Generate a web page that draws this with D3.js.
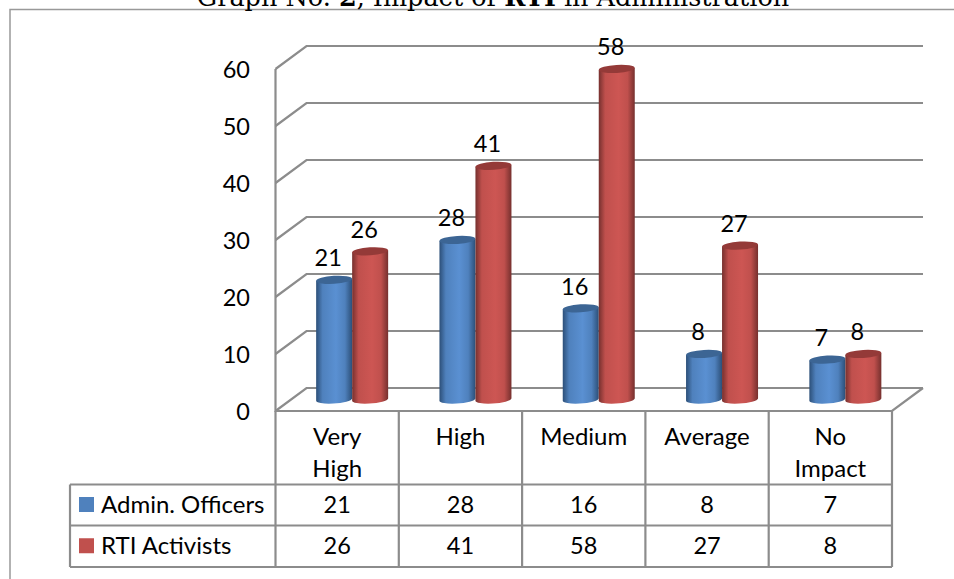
<!DOCTYPE html>
<html>
<head>
<meta charset="utf-8">
<script src="https://cdn.jsdelivr.net/npm/d3@7"></script>
<style>
html,body{margin:0;padding:0;background:#fff;overflow:hidden}
svg{display:block}
text{font-family:Lato,"Open Sans",sans-serif;fill:#000}
</style>
</head>
<body>
<script>
const categories = [["Very","High"],["High"],["Medium"],["Average"],["No","Impact"]];
const seriesNames = ["Admin. Officers","RTI Activists"];
const adminOfficers = [21,28,16,8,7];
const rtiActivists = [26,41,58,27,8];
const yTicks = [0,10,20,30,40,50,60];
const seriesColors = [
  {base:"#4f81bd",edge:"#2c4f78",light:"#5a90d2",top:"#3c6594"},
  {base:"#c0504d",edge:"#76302e",light:"#cd5653",top:"#943a38"}
];
const seriesValues = [adminOfficers, rtiActivists];

const W=954,H=579,fs="24px",fsNum="23.5px";
const svg=d3.select("body").append("svg").attr("width",W).attr("height",H);
const defs=svg.append("defs");
seriesColors.forEach((c,i)=>{
  const g=defs.append("linearGradient").attr("id","cyl"+i).attr("x1",0).attr("x2",1).attr("y1",0).attr("y2",0);
  [[0,c.edge],[0.18,c.base],[0.55,c.light],[0.8,c.base],[1,c.edge]].forEach(s=>
    g.append("stop").attr("offset",s[0]).attr("stop-color",s[1]));
});

const lineCol="#8c8c8c";
const x0=275.5,x1=892,yZero=411,yTop=69,dx=31,dy=23;
const tableRows=[411,484.5,525.5,567];
const legendLeft=70;

const x=d3.scaleBand().domain(d3.range(categories.length)).range([x0,x1]).padding(0);
const y=d3.scaleLinear().domain([0,60]).range([yZero,yTop]);

// frame
svg.append("path").attr("d",`M10,${H}V9.5H${W}`).attr("fill","none").attr("stroke","#999").attr("stroke-width",1.5);

// title
const title=svg.append("text").attr("x",493).attr("y",5.5).attr("text-anchor","middle")
  .style("font-family","'DejaVu Serif',serif").style("font-size","25.5px");
title.append("tspan").text("Graph No. ");
title.append("tspan").style("font-weight","bold").text("2");
title.append("tspan").text(", Impact of ");
title.append("tspan").style("font-weight","bold").text("RTI");
title.append("tspan").text(" in Administration");

// walls and gridlines
const grid=svg.append("g").attr("fill","none").attr("stroke",lineCol).attr("stroke-width",2.2);
yTicks.forEach(t=>{
  grid.append("path").attr("d",`M${x0},${y(t)}L${x0+dx},${y(t)-dy}H${x1+dx}`);
});
grid.append("path").attr("d",`M${x0},${y(60)}V${yZero}H${x1}L${x1+dx},${yZero-dy}`);

// y axis
const yAxis=d3.axisLeft(y).tickValues(yTicks).tickSize(0).tickPadding(0);
const ga=svg.append("g").attr("transform","translate(250,0)").call(yAxis);
ga.select(".domain").remove();
ga.selectAll("text").attr("dy","0.36em").style("font-family","Lato").style("font-size",fsNum).style("fill","#000");

// cylinders
const barW=36,ry=4,baseLift=11.5,depthShift=15;
const barX=(c,s)=>x(c)+x.bandwidth()/2+depthShift+(s===0?-barW:0);
seriesValues.forEach((vals,s)=>{
  const g=svg.append("g").attr("class","series"+s);
  const col=seriesColors[s];
  vals.forEach((v,c)=>{
    const l=barX(c,s),r=l+barW,cx=l+barW/2,b=yZero-baseLift,t=y(v)-baseLift;
    g.append("path").attr("fill",`url(#cyl${s})`)
      .attr("d",`M${l},${t+1}V${b+1}A${barW/2},${ry} -4 0 0 ${r},${b-1}V${t-1}Z`);
    g.append("ellipse").attr("cx",cx).attr("cy",t).attr("rx",barW/2).attr("ry",ry)
      .attr("transform",`rotate(-3.5 ${cx} ${t})`).attr("fill",col.top);
  });
});

// data labels
seriesValues.forEach((vals,s)=>{
  svg.append("g").selectAll("text").data(vals).join("text")
    .attr("x",(v,c)=>barX(c,s)+barW/2-6)
    .attr("y",v=>y(v)-baseLift-22)
    .attr("dy","0.36em").attr("text-anchor","middle").style("font-size",fsNum).text(v=>v);
});

// table
const tbl=svg.append("g").attr("fill","none").attr("stroke",lineCol).attr("stroke-width",2.2);
x.domain().concat([categories.length]).forEach(i=>{
  const px=i<categories.length?x(i):x1;
  tbl.append("path").attr("d",`M${px},${yZero}V${tableRows[3]}`);
});
tableRows.slice(1).forEach(r=>tbl.append("path").attr("d",`M${legendLeft},${r}H${x1}`));
tbl.append("path").attr("d",`M${legendLeft},${tableRows[1]}V${tableRows[3]}`);

const cat=svg.append("g").attr("text-anchor","middle").style("font-size",fs);
categories.forEach((lines,i)=>{
  lines.forEach((ln,j)=>{
    cat.append("text").attr("x",x(i)+x.bandwidth()/2).attr("y",436.5+j*32).attr("dy","0.36em").text(ln);
  });
});
seriesValues.forEach((vals,s)=>{
  const rowY=(tableRows[s+1]+tableRows[s+2])/2-0.5;
  svg.append("rect").attr("x",79).attr("y",rowY-7.5).attr("width",15).attr("height",15).attr("fill",seriesColors[s].base);
  svg.append("text").attr("x",101).attr("y",rowY).attr("dy","0.36em").style("font-size",fs).text(seriesNames[s]);
  svg.append("g").attr("text-anchor","middle").style("font-size",fsNum).selectAll("text").data(vals).join("text")
    .attr("x",(v,c)=>x(c)+x.bandwidth()/2).attr("y",rowY).attr("dy","0.36em").text(v=>v);
});
</script>
</body>
</html>
